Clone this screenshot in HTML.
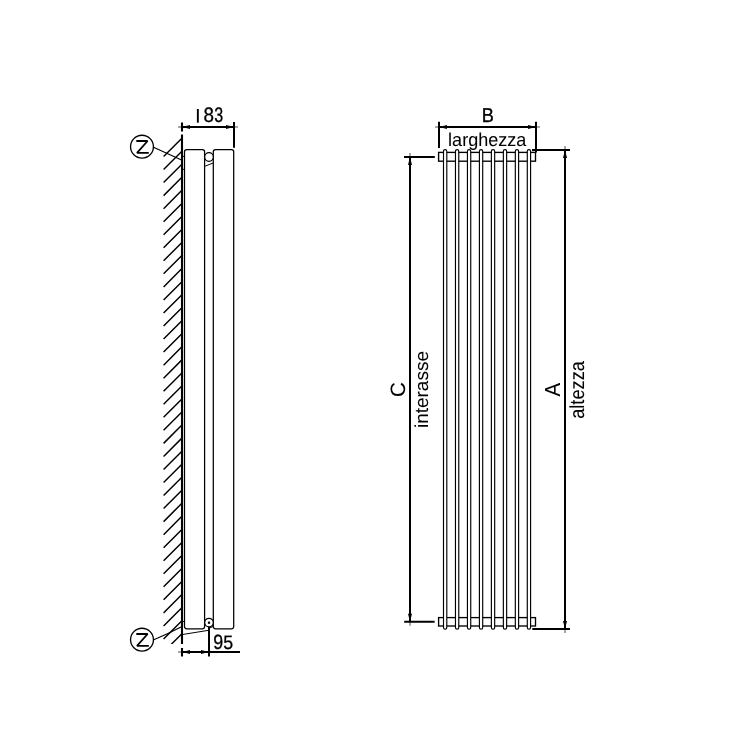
<!DOCTYPE html>
<html><head><meta charset="utf-8"><style>
html,body{margin:0;padding:0;background:#fff;width:750px;height:750px;overflow:hidden}
svg{display:block}
text{text-rendering:geometricPrecision}
</style></head><body>
<svg width="750" height="750" viewBox="0 0 750 750">
<defs><clipPath id="hc"><rect x="150" y="137" width="31.2" height="507"/></clipPath></defs>
<rect width="750" height="750" fill="#fff"/>
<g style="will-change:transform">
<g clip-path="url(#hc)"><path d="M163.6 156.50L181.4 138.70M163.6 169.54L181.4 151.74M163.6 182.58L181.4 164.78M163.6 195.62L181.4 177.82M163.6 208.66L181.4 190.86M163.6 221.70L181.4 203.90M163.6 234.74L181.4 216.94M163.6 247.78L181.4 229.98M163.6 260.82L181.4 243.02M163.6 273.86L181.4 256.06M163.6 286.90L181.4 269.10M163.6 299.94L181.4 282.14M163.6 312.98L181.4 295.18M163.6 326.02L181.4 308.22M163.6 339.06L181.4 321.26M163.6 352.10L181.4 334.30M163.6 365.14L181.4 347.34M163.6 378.18L181.4 360.38M163.6 391.22L181.4 373.42M163.6 404.26L181.4 386.46M163.6 417.30L181.4 399.50M163.6 430.34L181.4 412.54M163.6 443.38L181.4 425.58M163.6 456.42L181.4 438.62M163.6 469.46L181.4 451.66M163.6 482.50L181.4 464.70M163.6 495.54L181.4 477.74M163.6 508.58L181.4 490.78M163.6 521.62L181.4 503.82M163.6 534.66L181.4 516.86M163.6 547.70L181.4 529.90M163.6 560.74L181.4 542.94M163.6 573.78L181.4 555.98M163.6 586.82L181.4 569.02M163.6 599.86L181.4 582.06M163.6 612.90L181.4 595.10M163.6 625.94L181.4 608.14M163.6 638.98L181.4 621.18M163.6 652.02L181.4 634.22" stroke="#000" fill="none" stroke-width="1.45"/></g>
<path d="M182 122.4V131.5M182 134.5V644M182 648V656.6" stroke="#000" fill="none" stroke-width="2.1"/>
<rect x="184.5" y="149.6" width="20.1" height="479.2" rx="2.2" ry="2.2" stroke="#000" fill="none" stroke-width="1.25"/>
<rect x="213.3" y="149.6" width="20.4" height="479.2" rx="2.2" ry="2.2" stroke="#000" fill="none" stroke-width="1.25"/>
<circle cx="209" cy="157" r="4.3" fill="#fff" stroke="#000" stroke-width="1.25"/>
<circle cx="209" cy="622.6" r="4.3" fill="#fff" stroke="#000" stroke-width="1.25"/>
<rect x="207.9" y="621.6" width="2.2" height="2.2" fill="#000"/>
<circle cx="142" cy="146.7" r="11.45" stroke="#000" fill="none" stroke-width="1.35"/>
<circle cx="142" cy="639.7" r="11.45" stroke="#000" fill="none" stroke-width="1.35"/>
<path d="M136.3 141H147.6L137 152.9H148.8M136.3 634H147.6L137 645.8H148.8" stroke="#000" fill="none" stroke-width="1.8" stroke-linejoin="bevel"/>
<path d="M153 147L181.5 160M153.2 640Q168 634 181.5 626.8" stroke="#000" fill="none" stroke-width="1.1"/>
<path d="M182.5 156.3H184.5M182.5 169.3H184.5M182.5 621.6H184.5M205 166.2L213.4 162.9M182 634.6L208 630.4M209.5 628L213.5 626.3" stroke="#000" fill="none" stroke-width="1"/>
<path d="M182 127H234M234 122.1V147.7" stroke="#000" fill="none" stroke-width="2"/>
<path d="M182 652H240M209 626.7V656.6" stroke="#000" fill="none" stroke-width="2"/>
<rect x="438.6" y="152.4" width="96.9" height="8.8" stroke="#000" fill="none" stroke-width="1.35"/>
<rect x="438.6" y="617.6" width="96.9" height="8.4" stroke="#000" fill="none" stroke-width="1.35"/>
<rect x="443.50" y="149.6" width="3.3" height="479.6" rx="1.65" ry="1.65" fill="#fff" stroke="#000" stroke-width="1.15"/>
<rect x="455.47" y="149.6" width="3.3" height="479.6" rx="1.65" ry="1.65" fill="#fff" stroke="#000" stroke-width="1.15"/>
<rect x="467.44" y="149.6" width="3.3" height="479.6" rx="1.65" ry="1.65" fill="#fff" stroke="#000" stroke-width="1.15"/>
<rect x="479.41" y="149.6" width="3.3" height="479.6" rx="1.65" ry="1.65" fill="#fff" stroke="#000" stroke-width="1.15"/>
<rect x="491.38" y="149.6" width="3.3" height="479.6" rx="1.65" ry="1.65" fill="#fff" stroke="#000" stroke-width="1.15"/>
<rect x="503.35" y="149.6" width="3.3" height="479.6" rx="1.65" ry="1.65" fill="#fff" stroke="#000" stroke-width="1.15"/>
<rect x="515.32" y="149.6" width="3.3" height="479.6" rx="1.65" ry="1.65" fill="#fff" stroke="#000" stroke-width="1.15"/>
<rect x="527.29" y="149.6" width="3.3" height="479.6" rx="1.65" ry="1.65" fill="#fff" stroke="#000" stroke-width="1.15"/>
<path d="M439 127H536M439 121.8V148M536 121.8V152.4" stroke="#000" fill="none" stroke-width="2"/>
<path d="M404 157H434.8M404.2 621.8H434.6M410 157V621.8" stroke="#000" fill="none" stroke-width="2"/>
<path d="M532 150H570M532.3 629H570M565 150V629" stroke="#000" fill="none" stroke-width="2"/>
<polygon points="182.00,127.00 190.00,125.00 190.00,129.00" fill="#000"/>
<path d="M182.00 127.00L178.00 127.00" stroke="#000" stroke-width="0.7"/>
<polygon points="234.00,127.00 226.00,125.00 226.00,129.00" fill="#000"/>
<path d="M234.00 127.00L238.00 127.00" stroke="#000" stroke-width="0.7"/>
<polygon points="182.00,652.00 190.00,650.00 190.00,654.00" fill="#000"/>
<path d="M182.00 652.00L178.00 652.00" stroke="#000" stroke-width="0.7"/>
<polygon points="209.00,652.00 201.00,650.00 201.00,654.00" fill="#000"/>
<path d="M209.00 652.00L213.00 652.00" stroke="#000" stroke-width="0.7"/>
<polygon points="439.00,127.00 447.00,125.00 447.00,129.00" fill="#000"/>
<path d="M439.00 127.00L435.00 127.00" stroke="#000" stroke-width="0.7"/>
<polygon points="536.00,127.00 528.00,125.00 528.00,129.00" fill="#000"/>
<path d="M536.00 127.00L540.00 127.00" stroke="#000" stroke-width="0.7"/>
<polygon points="410.00,157.00 408.00,165.00 412.00,165.00" fill="#000"/>
<path d="M410.00 157.00L410.00 153.00" stroke="#000" stroke-width="0.7"/>
<polygon points="410.00,621.80 408.00,613.80 412.00,613.80" fill="#000"/>
<path d="M410.00 621.80L410.00 625.80" stroke="#000" stroke-width="0.7"/>
<polygon points="565.00,150.00 563.00,158.00 567.00,158.00" fill="#000"/>
<path d="M565.00 150.00L565.00 146.00" stroke="#000" stroke-width="0.7"/>
<polygon points="565.00,629.00 563.00,621.00 567.00,621.00" fill="#000"/>
<path d="M565.00 629.00L565.00 633.00" stroke="#000" stroke-width="0.7"/>
<rect x="196.9" y="109" width="1.9" height="13.7" fill="#000"/>
<text transform="translate(203.409,122.479) scale(0.9888,1.1045)" font-size="19" font-family="Liberation Sans" fill="#000" stroke="#000" stroke-width="0.3">8</text>
<text transform="translate(214.309,122.479) scale(0.8444,1.1045)" font-size="19" font-family="Liberation Sans" fill="#000" stroke="#000" stroke-width="0.3">3</text>
<text transform="translate(213.151,649.482) scale(0.9432,1.0896)" font-size="19" font-family="Liberation Sans" fill="#000" stroke="#000" stroke-width="0.3">9</text>
<text transform="translate(223.253,649.495) scale(0.9333,1.0227)" font-size="19" font-family="Liberation Sans" fill="#000" stroke="#000" stroke-width="0.3">5</text>
<text transform="translate(481.640,121.700) scale(1.0430,1.1500)" font-size="17.4" font-family="Liberation Sans" fill="#000" stroke="#000" stroke-width="0.3">B</text>
<text transform="translate(448.097,145.600) scale(1.0026,1.0382)" font-size="18" font-family="Liberation Sans" fill="#000" stroke="#000" stroke-width="0.05">larghezza</text>
<text transform="translate(404.697,396.908) rotate(-90) scale(1.0077,1.0139)" font-size="20.5" font-family="Liberation Sans" fill="#000" stroke="#000" stroke-width="0.05">C</text>
<text transform="translate(559.900,396.599) rotate(-90) scale(0.9926,1.0643)" font-size="20.5" font-family="Liberation Sans" fill="#000" stroke="#000" stroke-width="0.05">A</text>
<text transform="translate(428.000,428.082) rotate(-90) scale(1.0684,1.0543)" font-size="17.8" font-family="Liberation Sans" fill="#000" stroke="#000" stroke-width="0.05">interasse</text>
<text transform="translate(583.700,418.823) rotate(-90) scale(1.1756,1.3097)" font-size="15.5" font-family="Liberation Sans" fill="#000" stroke="#000" stroke-width="0.05">altezza</text>
</g>
</svg>
</body></html>
